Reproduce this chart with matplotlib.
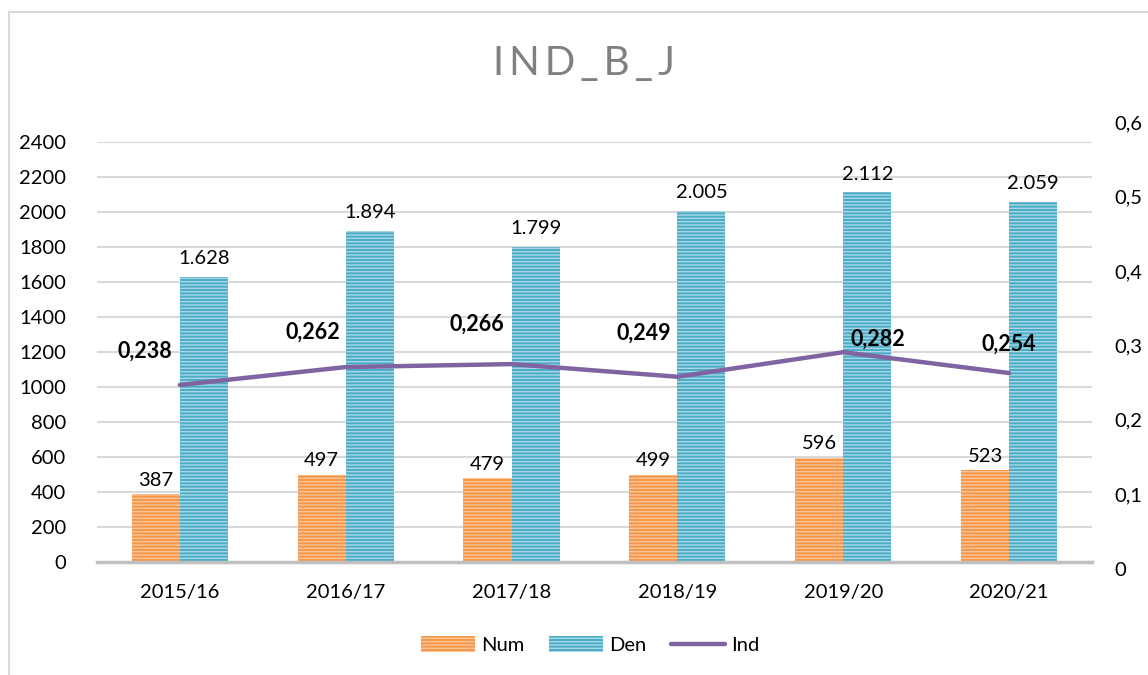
import numpy as np
import matplotlib.pyplot as plt
from matplotlib.lines import Line2D
from matplotlib.patches import Patch
from matplotlib import transforms

plt.rcParams['font.family'] = ['Lato', 'DejaVu Sans']
plt.rcParams['hatch.linewidth'] = 1.0

# data
years = ['2015/16', '2016/17', '2017/18', '2018/19', '2019/20', '2020/21']
num = [387, 497, 479, 499, 596, 523]
den = [1628, 1894, 1799, 2005, 2112, 2059]
ind = [0.238, 0.262, 0.266, 0.249, 0.282, 0.254]
left_ticks = list(range(0, 2401, 200))
right_ticks = [0, 0.1, 0.2, 0.3, 0.4, 0.5, 0.6]
right_labels = ['0', '0,1', '0,2', '0,3', '0,4', '0,5', '0,6']

# label offsets for the line (points), placed like the original
ind_offsets = [(-25, 24), (-24, 25), (-25, 29), (-24, 31), (25, 9), (0, 21)]

orange, orange_l = '#F79646', '#FBC59A'
blue, blue_l = '#4BACC6', '#A8D8E6'
purple = '#8064A2'
fs = 14.5

fig = plt.figure(figsize=(11.48, 6.75), dpi=100)
ax = fig.add_axes([0.0845, 0.1674, 0.8667, 0.6222])

x = np.arange(len(years))
w = 0.29
b1 = ax.bar(x - w / 2, num, w, color=orange, edgecolor=orange_l, hatch='-----', linewidth=0, zorder=2)
b2 = ax.bar(x + w / 2, den, w, color=blue, edgecolor=blue_l, hatch='-----', linewidth=0, zorder=2)

for rect, v in zip(b1, num):
    ax.annotate(str(v), (rect.get_x() + rect.get_width() / 2, v), xytext=(0, 4),
                textcoords='offset points', ha='center', va='bottom', fontsize=fs)
for rect, v in zip(b2, den):
    ax.annotate(f'{v / 1000:.3f}', (rect.get_x() + rect.get_width() / 2, v), xytext=(0, 7),
                textcoords='offset points', ha='center', va='bottom', fontsize=fs)

ax.set_xlim(-0.5, len(years) - 0.5)
ax.set_ylim(0, 2400)
ax.set_yticks(left_ticks)
ax.set_yticklabels([str(t) for t in left_ticks], fontsize=fs)
ax.set_xticks(x)
ax.set_xticklabels(years, fontsize=fs)
ax.tick_params(axis='y', length=0, pad=22)
ax.tick_params(axis='x', length=0, pad=16)
ax.grid(axis='y', color='#D9D9D9', linewidth=1.5, zorder=0)
ax.set_axisbelow(True)
for s in ['top', 'right', 'left']:
    ax.spines[s].set_visible(False)
ax.spines['bottom'].set_color('#BFBFBF')
ax.spines['bottom'].set_linewidth(2.5)
ax.spines['bottom'].set_zorder(3)

# secondary axis for the indicator
ax2 = ax.twinx()
ax2.set_ylim(0, 0.5645)
ax2.plot(x, ind, color=purple, linewidth=3.2, solid_capstyle='round', zorder=4)
for xi, v, (dx, dy) in zip(x, ind, ind_offsets):
    ax2.annotate(f'{v:.3f}'.replace('.', ','), (xi, v), xytext=(dx, dy), textcoords='offset points',
                 ha='center', va='center', fontsize=15.5, fontweight='bold')
ax2.set_yticks([])
for s in ['top', 'right', 'left', 'bottom']:
    ax2.spines[s].set_visible(False)
trans = transforms.blended_transform_factory(ax2.transAxes, ax2.transData) + \
    transforms.ScaledTranslation(0, -8 / 100, fig.dpi_scale_trans)
for v, lab in zip(right_ticks, right_labels):
    ax2.text(1.023, v, lab, transform=trans, ha='left', va='center', fontsize=fs, clip_on=False)

fig.text(0.509, 0.906, '\u2009'.join('IND_B_J'), ha='center', va='center', fontsize=29,
         color='#808080')

handles = [Patch(facecolor=orange, edgecolor=orange_l, hatch='-----', linewidth=0),
           Patch(facecolor=blue, edgecolor=blue_l, hatch='-----', linewidth=0),
           Line2D([0], [0], color=purple, linewidth=3.2, solid_capstyle='round')]
fig.legend(handles, ['Num', 'Den', 'Ind'], loc='center', bbox_to_anchor=(0.514, 0.044), ncol=3,
           frameon=False, fontsize=fs, handlelength=2.7, handleheight=0.8, handletextpad=0.3,
           columnspacing=1.2)

# chart border (left and top edges visible)
fig.add_artist(Line2D([9 / 1148, 9 / 1148], [0, 1 - 12 / 675], color='#D9D9D9', linewidth=1.5))
fig.add_artist(Line2D([9 / 1148, 1], [1 - 12 / 675, 1 - 12 / 675], color='#D9D9D9', linewidth=1.5))

fig.savefig('out.png', dpi=100)
